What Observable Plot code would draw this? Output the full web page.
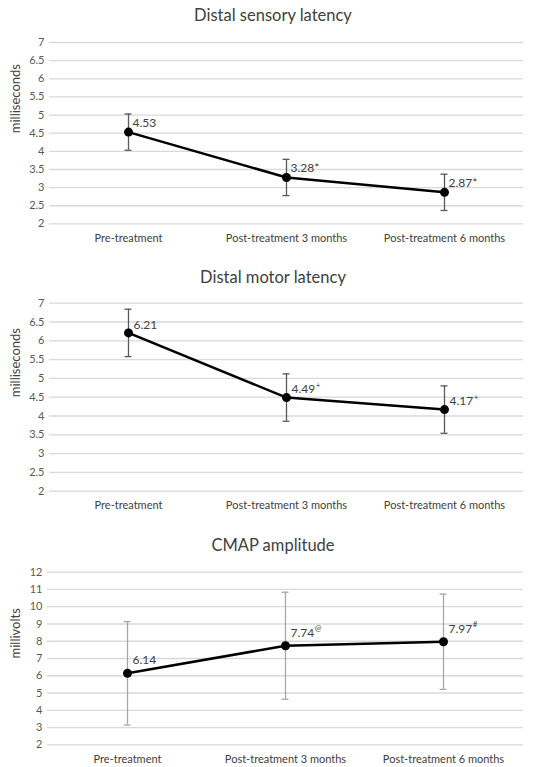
<!DOCTYPE html>
<html><head><meta charset="utf-8">
<script src="https://cdn.jsdelivr.net/npm/d3@7"></script>
<script src="https://cdn.jsdelivr.net/npm/@observablehq/plot@0.6"></script>
<style>
body{margin:0;background:#fff;font-family:Lato,sans-serif;}
.title{height:30px;line-height:30px;text-align:center;font-size:16.5px;color:#404040;width:546px;}
svg{display:block;}
</style></head><body><div id="root"></div>
<script>
const categories = ["Pre-treatment", "Post-treatment 3 months", "Post-treatment 6 months"];
const sensoryMean = [4.53, 3.28, 2.87];
const sensorySD = [0.5, 0.5, 0.5];
const sensoryMarks = ["", "*", "*"];
const motorMean = [6.21, 4.49, 4.17];
const motorSD = [0.63, 0.63, 0.63];
const motorMarks = ["", "+", "+"];
const cmapMean = [6.14, 7.74, 7.97];
const cmapSD = [3.0, 3.1, 2.76];
const cmapMarks = ["", "@", "#"];
const latencyTicks = [2, 2.5, 3, 3.5, 4, 4.5, 5, 5.5, 6, 6.5, 7];
const cmapTicks = [2, 3, 4, 5, 6, 7, 8, 9, 10, 11, 12];

const LABEL_FS = 12;
const ctx = document.createElement("canvas").getContext("2d");
ctx.font = `${LABEL_FS}px Lato`;

function panel(o) {
  const data = categories.map((c, i) => ({
    c, m: o.mean[i], lo: o.mean[i] - o.sd[i], hi: o.mean[i] + o.sd[i],
    main: o.mean[i].toFixed(2) + (o.sup ? "" : o.marks[i]),
    suf: o.sup ? o.marks[i] : ""
  }));
  const w = ctx.measureText("0.00").width;
  const title = document.createElement("div");
  title.className = "title";
  title.textContent = o.title;
  document.getElementById("root").appendChild(title);
  const chart = Plot.plot({
    width: 546, height: o.height,
    marginTop: o.mt, marginBottom: o.mb, marginLeft: o.ml, marginRight: 23,
    style: {fontFamily: "Lato, sans-serif", background: "#fff"},
    x: {type: "band", domain: categories, padding: 0},
    y: {domain: o.domain},
    marks: [
      Plot.ruleY(o.ticks, {stroke: "#d9d9d9", strokeWidth: 1.3}),
      Plot.axisX({tickSize: 0, tickPadding: 10, label: null, fontSize: 11, fill: "#404040"}),
      Plot.axisY({ticks: o.ticks, tickFormat: d => String(d), tickSize: 0, tickPadding: 5, label: null, fontSize: 11, fill: "#595959"}),
      Plot.text([o.label], {frameAnchor: "left", dx: -(o.ml - 15), rotate: -90, fontSize: 13, fill: "#404040"}),
      Plot.ruleX(data, {x: "c", y1: "lo", y2: "hi", stroke: o.errColor, strokeWidth: 1.3}),
      Plot.tickY(data, {x: "c", y: "lo", stroke: o.errColor, strokeWidth: 1.3, insetLeft: 75.5, insetRight: 75.5}),
      Plot.tickY(data, {x: "c", y: "hi", stroke: o.errColor, strokeWidth: 1.3, insetLeft: 75.5, insetRight: 75.5}),
      Plot.line(data, {x: "c", y: "m", stroke: "black", strokeWidth: 2.5}),
      Plot.dot(data, {x: "c", y: "m", r: 4.5, fill: "black"}),
      Plot.text(data, {x: "c", y: "m", text: "main", textAnchor: "start", dx: o.dx, dy: o.dy, fontSize: LABEL_FS, fill: "#404040"}),
      Plot.text(data, {x: "c", y: "m", text: "suf", textAnchor: "start", dx: o.dx + w + 0.5, dy: o.dy - 4, fontSize: 8, fill: "#404040"})
    ]
  });
  document.getElementById("root").appendChild(chart);
}

panel({title: "Distal sensory latency", mean: sensoryMean, sd: sensorySD, marks: sensoryMarks, sup: false,
  ticks: latencyTicks, domain: [2, 7], label: "milliseconds", height: 232, mt: 12, mb: 38.6, ml: 49,
  errColor: "#595959", dx: 4, dy: -9});
panel({title: "Distal motor latency", mean: motorMean, sd: motorSD, marks: motorMarks, sup: true,
  ticks: latencyTicks, domain: [2, 7], label: "milliseconds", height: 238, mt: 10.7, mb: 39.3, ml: 49,
  errColor: "#595959", dx: 5, dy: -8});
panel({title: "CMAP amplitude", mean: cmapMean, sd: cmapSD, marks: cmapMarks, sup: true,
  ticks: cmapTicks, domain: [2, 12], label: "millivolts", height: 207, mt: 11.7, mb: 22.7, ml: 47,
  errColor: "#a6a6a6", dx: 5, dy: -13});
</script></body></html>
